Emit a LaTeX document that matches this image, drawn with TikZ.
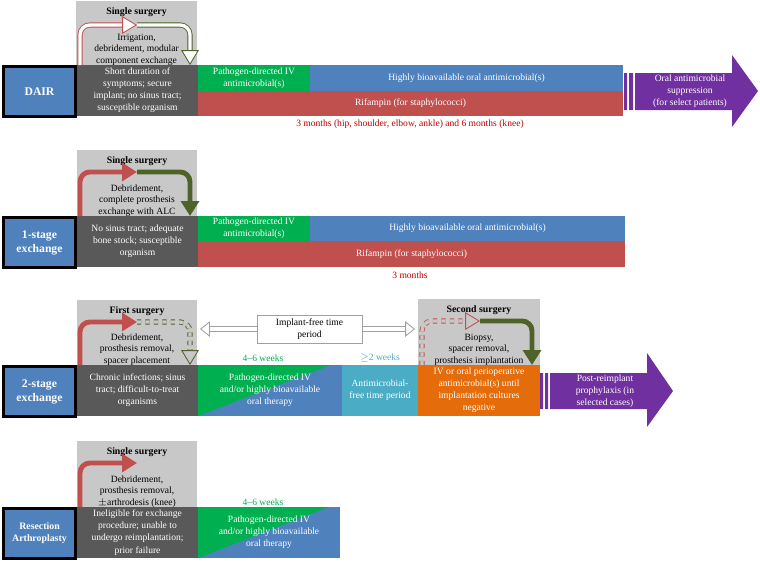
\documentclass[tikz,border=0pt]{standalone}
\usepackage{fontspec}
\setmainfont{Liberation Serif}
\usetikzlibrary{arrows.meta,fit,positioning}

\definecolor{ablue}{RGB}{79,129,189}
\definecolor{ared}{RGB}{192,80,77}
\definecolor{agreen}{RGB}{0,176,80}
\definecolor{acyan}{RGB}{75,172,198}
\definecolor{aorange}{RGB}{228,108,10}
\definecolor{apurple}{RGB}{112,48,160}
\definecolor{dgray}{RGB}{89,89,89}
\definecolor{lgray}{RGB}{200,200,200}
\definecolor{mgray}{RGB}{160,160,160}
\definecolor{olive}{RGB}{79,98,40}
\definecolor{mred}{RGB}{192,0,0}

\tikzset{
  area/.style={inner sep=0pt, fit={#1}},
  cell/.style={inner sep=0pt, align=center, text=white, font=\fontsize{6.8}{8.6}\selectfont},
  stage/.style={inner sep=0pt, draw=black, line width=2.2pt, fill=ablue},
  stagetext/.style={cell, font=\fontsize{8.3}{10}\selectfont\bfseries},
  surg/.style={inner sep=0pt, fill=lgray},
  head/.style={inner sep=0pt, font=\fontsize{7}{8}\selectfont\bfseries},
  proc/.style={inner sep=0pt, align=center, font=\fontsize{6.8}{8.4}\selectfont},
  split/.style={fill=ablue, path picture={\fill[agreen] (path picture bounding box.north west) -- (path picture bounding box.south west) -- ([xshift=-8pt]path picture bounding box.north east) -- cycle;}},
  months/.style={inner sep=0pt, font=\fontsize{6.8}{8}\selectfont},
  bar/.style={line width=3.5pt, rounded corners=7pt, -{Triangle[length=10.5pt,width=12.5pt]}},
  hollow/.style={line width=0.6pt, double=#1, double distance=2.4pt, rounded corners=7pt, -{Triangle[length=10.5pt,width=12.5pt,line width=0.6pt,fill=#1]}},
  hollow/.default=white
}

\begin{document}
\begin{tikzpicture}[x=0.025cm, y=-0.025cm]
\useasboundingbox (0,0) rectangle (760,561);

% DAIR
\node[surg, area={(76,1)(197,65)}] (sur1) {};
\node[head, below=5pt of sur1.north] (sur1t) {Single surgery};
\node[area={(77,65)(198,116)}, fill=dgray] (crit1) {};
\node[cell] at (crit1) {Short duration of\\symptoms; secure\\implant; no sinus tract;\\susceptible organism};
\node[proc, anchor=south] (sur1p) at ([yshift=-0.5pt]sur1.south) {Irrigation,\\debridement, modular\\component exchange};
\node[stage, area={(3.5,66.5)(75.5,116.5)}] (dair) {};
\node[stagetext] at (dair) {DAIR};
\node[area={(198,65)(310,91)}, fill=agreen] (iv1) {};
\node[cell] at (iv1) {Pathogen-directed IV\\antimicrobial(s)};
\node[area={(310,65)(623,91)}, fill=ablue] (oral1) {};
\node[cell] at (oral1) {Highly bioavailable oral antimicrobial(s)};
\node[area={(198,91)(623,116)}, fill=ared] (rif1) {};
\node[cell] at (rif1) {Rifampin (for staphylococci)};
\node[months, text=mred] (months1) at (410,124) {3 months (hip, shoulder, elbow, ankle) and 6 months (knee)};
\fill[apurple] (624,73) rectangle (627,110) (629,73) rectangle (633,110)
  (635,73) -- (732,73) -- (732,55) -- (758,91) -- (732,127) -- (732,110) -- (635,110) -- cycle;
\node[cell] (supp1) at (690,91) {Oral antimicrobial\\suppression\\(for select patients)};
\coordinate (a1) at (80,65);
\coordinate (b1) at (137,25);
\coordinate (c1) at (190,65);
\draw[hollow, draw=ared] (a1) |- (b1);
\draw[hollow, draw=olive] (b1) -| (c1);

% 1-stage exchange
\node[surg, area={(77,150)(197,216)}] (sur2) {};
\node[head, below=5pt of sur2.north] (sur2t) {Single surgery};
\node[area={(77,216)(198,267)}, fill=dgray] (crit2) {};
\node[cell] at (crit2) {No sinus tract; adequate\\bone stock; susceptible\\organism};
\node[proc, anchor=south] (sur2p) at ([yshift=-0.5pt]sur2.south) {Debridement,\\complete prosthesis\\exchange with ALC};
\node[stage, area={(3.5,217.5)(75.5,267.5)}] (one) {};
\node[stagetext] at (one) {1-stage\\exchange};
\node[area={(198,216)(310,241)}, fill=agreen] (iv2) {};
\node[cell] at (iv2) {Pathogen-directed IV\\antimicrobial(s)};
\node[area={(310,216)(625,241)}, fill=ablue] (oral2) {};
\node[cell] at (oral2) {Highly bioavailable oral antimicrobial(s)};
\node[area={(198,241)(625,267)}, fill=ared] (rif2) {};
\node[cell] at (rif2) {Rifampin (for staphylococci)};
\node[months, text=mred] (months2) at (410,275) {3 months};
\coordinate (a2) at (80,216);
\coordinate (b2) at (137,172);
\coordinate (c2) at (190,216);
\draw[bar, ared] (a2) |- (b2);
\draw[bar, olive] (b2) -| (c2);

% 2-stage exchange
\node[surg, area={(77,300)(197,365)}] (sur3) {};
\node[head, below=5pt of sur3.north] (sur3t) {First surgery};
\node[surg, area={(418,299)(540,365)}] (sur4) {};
\node[head, below=5pt of sur4.north] (sur4t) {Second surgery};
\node[area={(77,365)(198,416)}, fill=dgray] (crit3) {};
\node[cell] at (crit3) {Chronic infections; sinus\\tract; difficult-to-treat\\organisms};
\node[proc, anchor=south] (sur3p) at ([yshift=-0.5pt]sur3.south) {Debridement,\\prosthesis removal,\\spacer placement};
\node[stage, area={(3.5,366.5)(75.5,416.5)}] (two) {};
\node[stagetext] at (two) {2-stage\\exchange};
\node[split, area={(198,365)(342,416)}] (split3) {};
\node[cell] at (split3) {Pathogen-directed IV\\and/or highly bioavailable\\oral therapy};
\node[area={(342,365)(418,416)}, fill=acyan] (free3) {};
\node[cell] at (free3) {Antimicrobial-\\free time period};
\node[area={(418,365)(540,416)}, fill=aorange] (peri3) {};
\node[cell] at (peri3) {IV or oral perioperative\\antimicrobial(s) until\\implantation cultures\\negative};
\node[proc, anchor=south] (sur4p) at ([yshift=-0.5pt]sur4.south) {Biopsy,\\spacer removal,\\prosthesis implantation};
\node[months, text=agreen] (weeks3) at (263,358) {4--6 weeks};
\node[months, text=acyan] (ge3) at (380,358) {$\geq$2 weeks};
\fill[apurple] (540,373) rectangle (543,409) (545,373) rectangle (548,409)
  (550,373) -- (647,373) -- (647,353) -- (673,391) -- (647,427) -- (647,409) -- (550,409) -- cycle;
\node[cell] (proph3) at (605,391) {Post-reimplant\\prophylaxis (in\\selected cases)};
\coordinate (free l) at (200,329);
\coordinate (free r) at (415,329);
\draw[mgray, line width=0.6pt, double=white, double distance=3.4pt,
  {Triangle[length=7pt,width=11pt,line width=0.6pt,fill=white]}-{Triangle[length=7pt,width=11pt,line width=0.6pt,fill=white]}] (free l) -- (free r);
\node[area={(257,315)(362,343)}, draw=mgray, fill=white, line width=0.6pt] (freebox) {};
\node[proc] at (freebox) {Implant-free time\\period};
\coordinate (a3) at (80,365);
\coordinate (b3) at (137,322);
\coordinate (c3) at (190,365);
\draw[bar, ared] (a3) |- (b3);
\draw[hollow=lgray, draw=olive, dashed] (b3) -| (c3);
\coordinate (a4) at (422,365);
\coordinate (b4) at (480,321);
\coordinate (c4) at (532,365);
\draw[hollow=lgray, draw=ared, dashed] (a4) |- (b4);
\draw[bar, olive] (b4) -| (c4);

% Resection arthroplasty
\node[surg, area={(77,441)(197,507)}] (sur5) {};
\node[head, below=5pt of sur5.north] (sur5t) {Single surgery};
\node[area={(77,507)(198,558)}, fill=dgray] (crit4) {};
\node[cell] at (crit4) {Ineligible for exchange\\procedure; unable to\\undergo reimplantation;\\prior failure};
\node[proc, anchor=south] (sur5p) at ([yshift=-0.5pt]sur5.south) {Debridement,\\prosthesis removal,\\$\pm$arthrodesis (knee)};
\node[stage, area={(3.5,508.5)(75.5,558.5)}] (res) {};
\node[stagetext, font=\fontsize{7}{8.6}\selectfont\bfseries] at (res) {Resection\\Arthroplasty};
\node[split, area={(198,507)(340,558)}] (split4) {};
\node[cell] at (split4) {Pathogen-directed IV\\and/or highly bioavailable\\oral therapy};
\node[months, text=agreen] (weeks4) at (263,502) {4--6 weeks};
\coordinate (a5) at (80,507);
\coordinate (b5) at (137,463);
\draw[bar, ared] (a5) |- (b5);
\end{tikzpicture}
\end{document}
